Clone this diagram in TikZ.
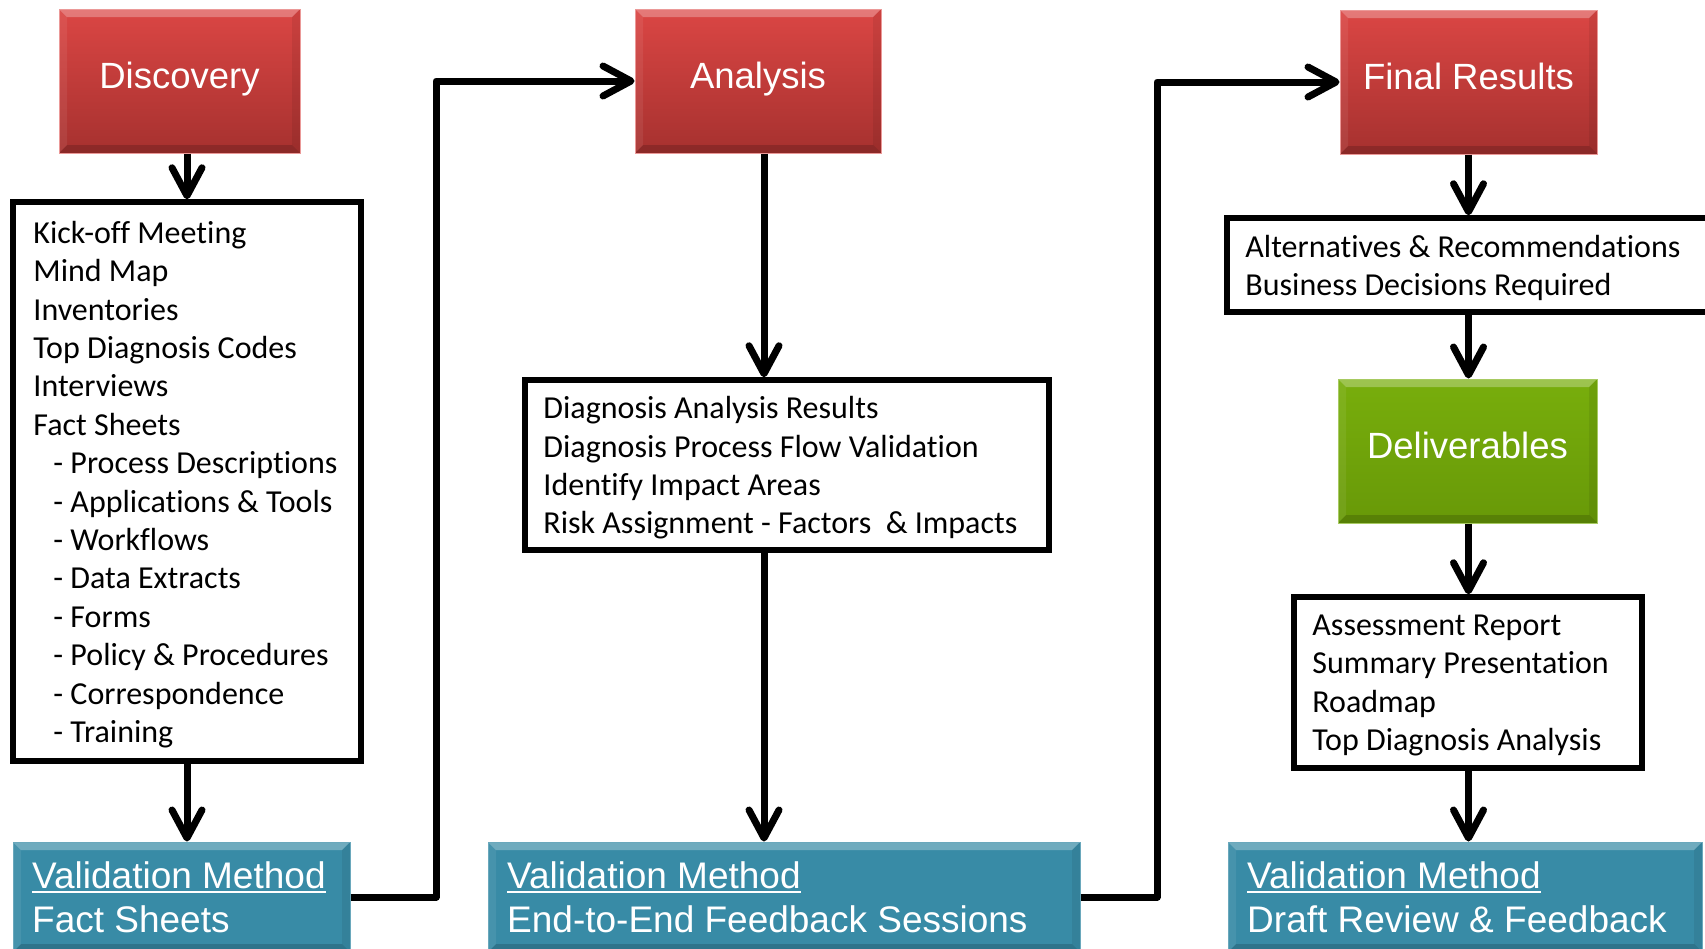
\documentclass[tikz,border=0pt]{standalone}
\usepackage{fontspec}
\setmainfont{Carlito}[Ligatures={NoCommon,TeX}]
\newfontfamily\arialf{Liberation Sans}
\usetikzlibrary{arrows.meta}
\newcommand\myul[1]{\setbox0\hbox{#1}\rlap{\rule[-4.5pt]{\wd0}{2.2pt}}\box0}
\definecolor{redtop}{RGB}{219,70,68}
\definecolor{redbot}{RGB}{166,49,47}
\definecolor{grntop}{RGB}{120,174,12}
\definecolor{grnbot}{RGB}{104,153,8}
\definecolor{blu}{RGB}{56,139,166}
\begin{document}
\begin{tikzpicture}[x=1pt,y=-1pt,
  bevel/.style={path picture={
    \fill[white,opacity=0.28] (path picture bounding box.north west) -- (path picture bounding box.north east)
      -- ([shift={(-8pt,-8pt)}]path picture bounding box.north east) -- ([shift={(8pt,-8pt)}]path picture bounding box.north west) -- cycle;
    \fill[black,opacity=0.16] (path picture bounding box.south west) -- (path picture bounding box.south east)
      -- ([shift={(-8pt,8pt)}]path picture bounding box.south east) -- ([shift={(8pt,8pt)}]path picture bounding box.south west) -- cycle;
    \fill[black,opacity=0.07] (path picture bounding box.north east) -- (path picture bounding box.south east)
      -- ([shift={(-8pt,8pt)}]path picture bounding box.south east) -- ([shift={(-8pt,-8pt)}]path picture bounding box.north east) -- cycle;
    \fill[white,opacity=0.07] (path picture bounding box.north west) -- (path picture bounding box.south west)
      -- ([shift={(8pt,8pt)}]path picture bounding box.south west) -- ([shift={(8pt,-8pt)}]path picture bounding box.north west) -- cycle;
  }},
  redbox/.style={rectangle, top color=redtop, bottom color=redbot, draw=redtop!55!white, line width=1pt,
    bevel, text=white, font=\arialf\fontsize{36.5}{44}\selectfont, inner sep=0pt, text height=27pt, text depth=13pt},
  grnbox/.style={rectangle, top color=grntop, bottom color=grnbot, draw=grntop!65!white, line width=1pt,
    bevel, text=white, font=\arialf\fontsize{36.5}{44}\selectfont, inner sep=0pt, text height=27pt, text depth=13pt},
  valbox/.style={rectangle, fill=blu, draw=blu!75!white, line width=1pt, bevel, inner sep=0pt},
  valtext/.style={anchor=west, align=left, inner sep=0pt, text=white, font=\arialf\fontsize{37}{44}\selectfont},
  listbox/.style={rectangle, draw=black, line width=5.5pt, fill=white, inner sep=0pt},
  listtext/.style={anchor=west, align=left, inner sep=0pt, text=black, font=\fontsize{32}{38.4}\selectfont},
  arr/.style={line width=7pt, line join=round, -{Straight Barb[length=28pt 0, width=30pt 0, round]}}
]
\useasboundingbox (0,0) rectangle (1705,948);
\fill[white] (0,0) rectangle (1705,948);
\clip (0,0) rectangle (1705,948);

% title boxes
\node[redbox, minimum width=241pt, minimum height=144pt] (disc) at (179.5,81) {Discovery};
\node[redbox, minimum width=246pt, minimum height=144pt] (ana) at (758,81) {Analysis};
\node[redbox, minimum width=257pt, minimum height=144pt] (fin) at (1468.5,82) {Final Results};
\node[grnbox, minimum width=259pt, minimum height=144pt] (deliv) at (1467.5,451) {Deliverables};

% list boxes
\node[listbox, minimum width=348pt, minimum height=559pt] (fact) at (187,481.5) {};
\node[listtext] (factT) at ([xshift=23pt,yshift=-3pt]fact.west) {Kick-off Meeting\\Mind Map\\Inventories\\Top Diagnosis Codes\\Interviews\\Fact Sheets\\
\hspace*{20pt}- Process Descriptions\\\hspace*{20pt}- Applications \& Tools\\\hspace*{20pt}- Workflows\\\hspace*{20pt}- Data Extracts\\
\hspace*{20pt}- Forms\\\hspace*{20pt}- Policy \& Procedures\\\hspace*{20pt}- Correspondence\\\hspace*{20pt}- Training};

\node[listbox, minimum width=524pt, minimum height=170pt] (ares) at (787,465) {};
\node[listtext] (aresT) at ([xshift=21pt,yshift=-3pt]ares.west) {Diagnosis Analysis Results\\Diagnosis Process Flow Validation\\Identify Impact Areas\\Risk Assignment - Factors\ \ \& Impacts};

\node[listbox, minimum width=493pt, minimum height=94pt] (alt) at (1473.5,265) {};
\node[listtext] (altT) at ([xshift=21pt,yshift=-3pt]alt.west) {Alternatives \& Recommendations\\Business Decisions Required};

\node[listbox, minimum width=348pt, minimum height=171pt] (assess) at (1468,682.5) {};
\node[listtext] (assessT) at ([xshift=21pt,yshift=-3pt]assess.west) {Assessment Report\\Summary Presentation\\Roadmap\\Top Diagnosis Analysis};

% validation boxes
\node[valbox, minimum width=337pt, minimum height=110pt] (val1) at (181.5,897) {};
\node[valtext] (val1T) at ([xshift=19.5pt]val1.west) {\myul{Validation Method}\\Fact Sheets};
\node[valbox, minimum width=592pt, minimum height=110pt] (val2) at (784,897) {};
\node[valtext] (val2T) at ([xshift=19.5pt]val2.west) {\myul{Validation Method}\\End-to-End Feedback Sessions};
\node[valbox, minimum width=474pt, minimum height=110pt] (val3) at (1465,897) {};
\node[valtext] (val3T) at ([xshift=19.5pt]val3.west) {\myul{Validation Method}\\Draft Review \& Feedback};

% connector helpers
\coordinate (c1) at (436,81);
\coordinate (c2) at (1157,82);
\coordinate (colB) at (764,0);

% connectors
\draw[arr] (disc.south -| fact.north) -- (fact.north);
\draw[arr] (fact.south) -- (fact.south |- val1.north);
\draw[arr] (val1.east) -| (c1) |- (ana.west);
\draw[arr] (ana.south -| colB) -- (ares.north -| colB);
\draw[arr] (ares.south -| colB) -- (val2.north -| colB);
\draw[arr] (val2.east) -| (c2) |- (fin.west);
\draw[arr] (fin.south) -- (fin.south |- alt.north);
\draw[arr] (alt.south -| fin.south) -- (deliv.north -| fin.south);
\draw[arr] (deliv.south -| fin.south) -- (assess.north -| fin.south);
\draw[arr] (assess.south -| fin.south) -- (val3.north -| fin.south);
\end{tikzpicture}
\end{document}
